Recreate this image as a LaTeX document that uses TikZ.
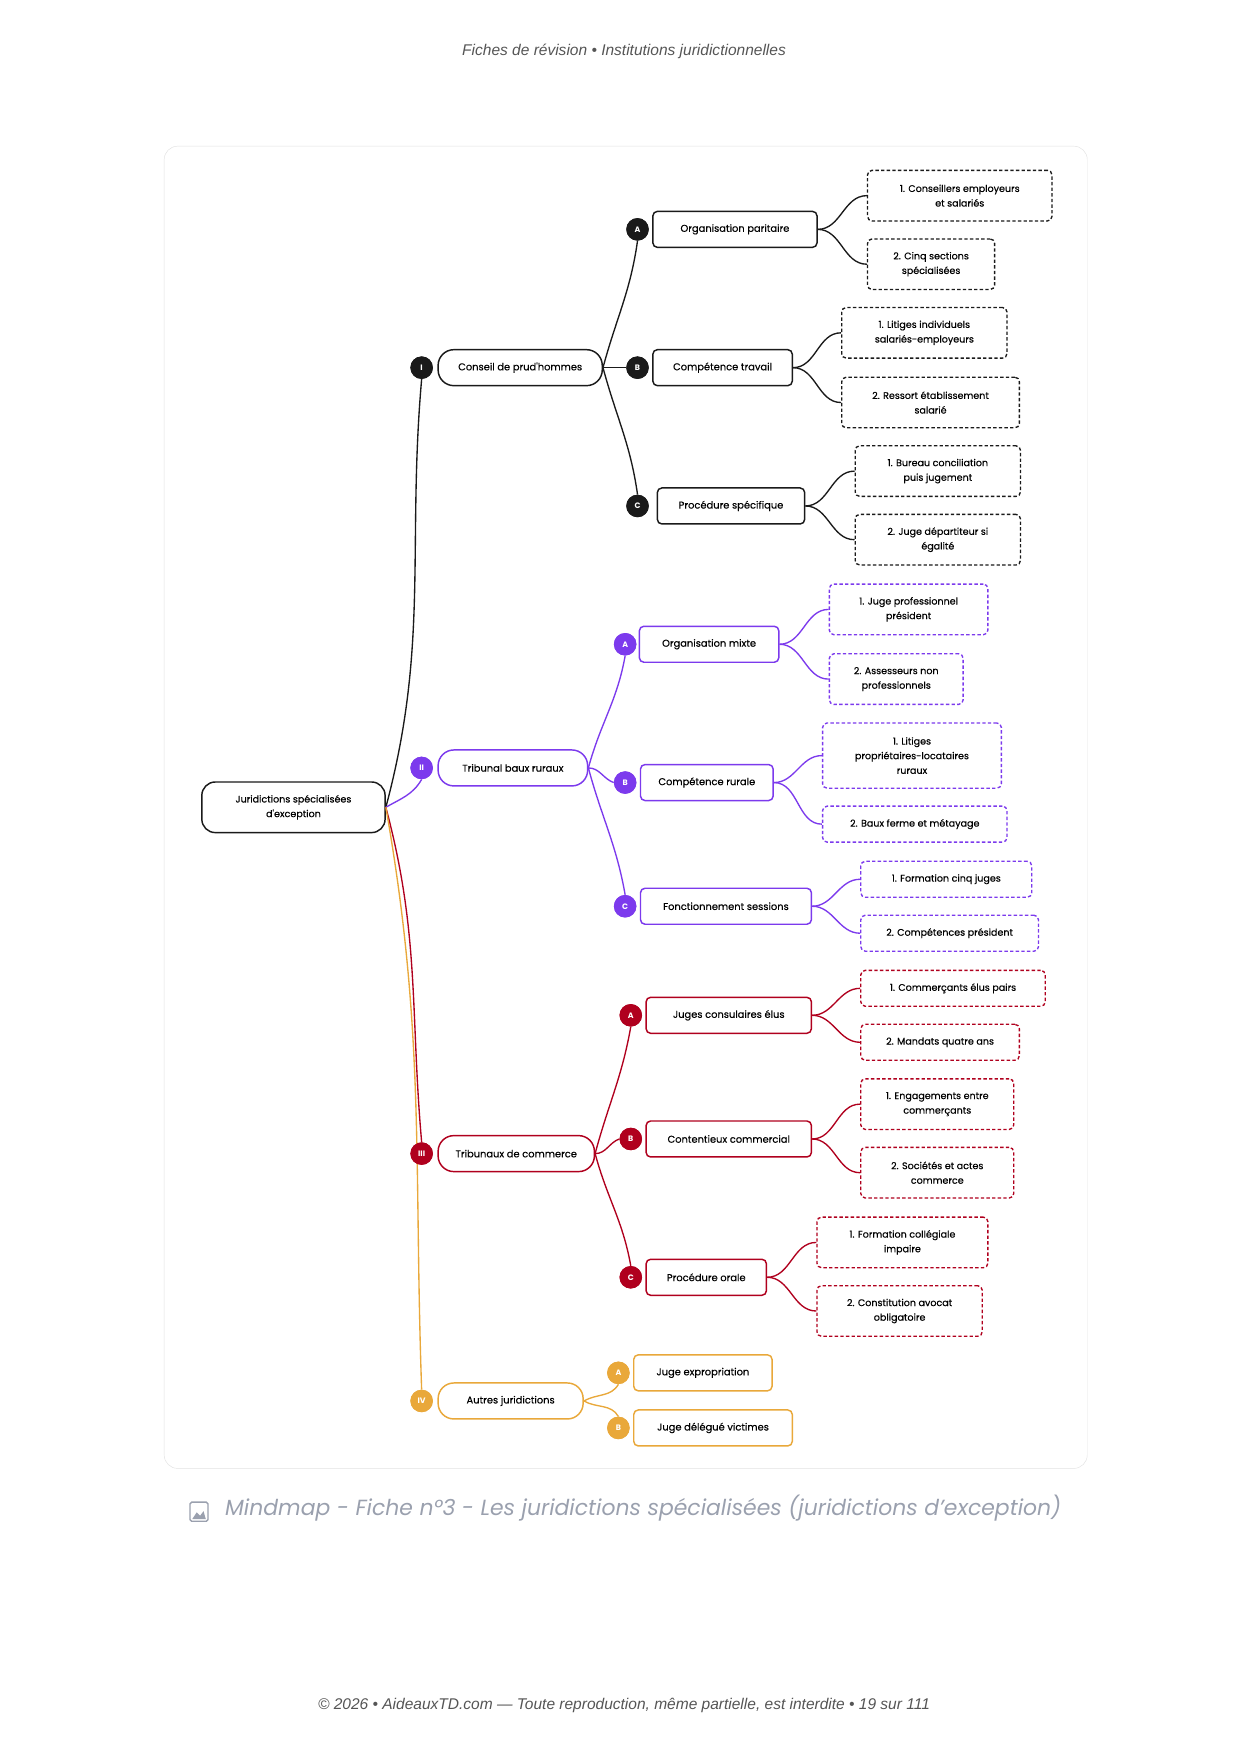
\documentclass[tikz,border=0pt]{standalone}
\usepackage{fontspec}
\setmainfont{Poppins}
\newfontfamily\medfont{Poppins}[FakeBold=0.35]
\newfontfamily\headfont{Liberation Sans}
\usetikzlibrary{positioning,calc}

\definecolor{inkblack}{HTML}{1A1A1A}
\definecolor{rurviolet}{HTML}{7C3AED}
\definecolor{comred}{HTML}{B0001E}
\definecolor{othorange}{HTML}{E9A83A}
\definecolor{cardline}{HTML}{E2E2E2}
\definecolor{capgray}{HTML}{9AA0AE}
\definecolor{headgray}{HTML}{555555}

\begin{document}
\begin{tikzpicture}[x=1pt, y=-1pt]

\tikzstyle{root} = [rectangle, rounded corners=12, draw=inkblack, line width=1.3, minimum width=163, minimum height=45, align=center, font=\medfont\fontsize{8.5}{13}\selectfont]
\tikzstyle{main} = [rectangle, rounded corners=14, line width=1.3, minimum height=32, anchor=west, align=center, font=\medfont\fontsize{8.8}{10}\selectfont, fill=white]
\tikzstyle{sub} = [rectangle, rounded corners=4, line width=1.3, minimum height=32, anchor=west, align=center, font=\medfont\fontsize{8.8}{10}\selectfont, fill=white]
\tikzstyle{leaf} = [rectangle, rounded corners=4, line width=1.2, dashed, dash pattern=on 3pt off 2pt, minimum height=45, anchor=west, align=center, font=\medfont\fontsize{8.5}{13}\selectfont, fill=white]
\tikzstyle{badge} = [circle, minimum size=20, inner sep=0, text=white, font=\fontsize{7}{7}\selectfont\bfseries]
\tikzstyle{link} = [line width=1.2]

\useasboundingbox (0,0) rectangle (1105,1560);

% header, card and footer
\node (head) at (555,46) {\headfont\itshape\fontsize{13.8}{15}\selectfont\color{headgray} Fiches de révision • Institutions juridictionnelles};
\draw [cardline, fill=white, rounded corners=12] (146,130) rectangle (967,1306);
\node (caption) at (572,1341) {\fontsize{19.5}{22}\selectfont\itshape\color{capgray} Mindmap - Fiche n°3 - Les juridictions spécialisées (juridictions d'exception)};
\draw [capgray, line width=1.2, rounded corners=1.5] (169,1336) rectangle (185,1353);
\fill [capgray] (171,1351) -- (175,1345) -- (178,1348) -- (181,1344) -- (183,1351) -- cycle;
\node (foot) at (555,1517) {\headfont\itshape\fontsize{13.8}{15}\selectfont\color{headgray} © 2026 • AideauxTD.com — Toute reproduction, même partielle, est interdite • 19 sur 111};

% ROOT
\node (root) [root] at (261,718) {Juridictions spécialisées\\d'exception};

%% -- I : CONSEIL DE PRUD'HOMMES --
\node (b1) [badge, fill=inkblack] at (375,327) {I};
\node (m1) [main, draw=inkblack, minimum width=146] at (389,327) {Conseil de prud'hommes};
\node (b1a) [badge, fill=inkblack] at (567,204) {A};
\node (s1a) [sub, draw=inkblack, minimum width=146] at (580,204) {Organisation paritaire};
\node (b1b) [badge, fill=inkblack] at (567,327) {B};
\node (s1b) [sub, draw=inkblack, minimum width=124] at (580,327) {Compétence travail};
\node (b1c) [badge, fill=inkblack] at (567,450) {C};
\node (s1c) [sub, draw=inkblack, minimum width=131] at (584,450) {Procédure spécifique};
\node (l1a1) [leaf, draw=inkblack, minimum width=164] at (771,174) {1. Conseillers employeurs\\et salariés};
\node (l1a2) [leaf, draw=inkblack, minimum width=113] at (771,235) {2. Cinq sections\\spécialisées};
\node (l1b1) [leaf, draw=inkblack, minimum width=147] at (748,296) {1. Litiges individuels\\salariés-employeurs};
\node (l1b2) [leaf, draw=inkblack, minimum width=158] at (748,358) {2. Ressort établissement\\salarié};
\node (l1c1) [leaf, draw=inkblack, minimum width=147] at (760,419) {1. Bureau conciliation\\puis jugement};
\node (l1c2) [leaf, draw=inkblack, minimum width=147] at (760,480) {2. Juge départiteur si\\égalité};

%% -- II : TRIBUNAL BAUX RURAUX --
\node (b2) [badge, fill=rurviolet] at (375,683) {II};
\node (m2) [main, draw=rurviolet, minimum width=133] at (389,683) {Tribunal baux ruraux};
\node (b2a) [badge, fill=rurviolet] at (556,573) {A};
\node (s2a) [sub, draw=rurviolet, minimum width=124] at (568,573) {Organisation mixte};
\node (b2b) [badge, fill=rurviolet] at (556,696) {B};
\node (s2b) [sub, draw=rurviolet, minimum width=118] at (569,696) {Compétence rurale};
\node (b2c) [badge, fill=rurviolet] at (556,806) {C};
\node (s2c) [sub, draw=rurviolet, minimum width=152] at (569,806) {Fonctionnement sessions};
\node (l2a1) [leaf, draw=rurviolet, minimum width=141] at (737,542) {1. Juge professionnel\\président};
\node (l2a2) [leaf, draw=rurviolet, minimum width=119] at (737,604) {2. Assesseurs non\\professionnels};
\node (l2b1) [leaf, draw=rurviolet, minimum width=159, minimum height=58] at (731,672) {1. Litiges\\propriétaires-locataires\\ruraux};
\node (l2b2) [leaf, draw=rurviolet, minimum width=164, minimum height=32] at (731,733) {2. Baux ferme et métayage};
\node (l2c1) [leaf, draw=rurviolet, minimum width=152, minimum height=32] at (765,782) {1. Formation cinq juges};
\node (l2c2) [leaf, draw=rurviolet, minimum width=158, minimum height=32] at (765,830) {2. Compétences président};

%% -- III : TRIBUNAUX DE COMMERCE --
\node (b3) [badge, fill=comred] at (375,1026) {III};
\node (m3) [main, draw=comred, minimum width=139] at (389,1026) {Tribunaux de commerce};
\node (b3a) [badge, fill=comred] at (561,903) {A};
\node (s3a) [sub, draw=comred, minimum width=147] at (574,903) {Juges consulaires élus};
\node (b3b) [badge, fill=comred] at (561,1013) {B};
\node (s3b) [sub, draw=comred, minimum width=147] at (574,1013) {Contentieux commercial};
\node (b3c) [badge, fill=comred] at (561,1136) {C};
\node (s3c) [sub, draw=comred, minimum width=107] at (574,1136) {Procédure orale};
\node (l3a1) [leaf, draw=comred, minimum width=164, minimum height=32] at (765,879) {1. Commerçants élus pairs};
\node (l3a2) [leaf, draw=comred, minimum width=141, minimum height=32] at (765,927) {2. Mandats quatre ans};
\node (l3b1) [leaf, draw=comred, minimum width=136] at (765,982) {1. Engagements entre\\commerçants};
\node (l3b2) [leaf, draw=comred, minimum width=136] at (765,1043) {2. Sociétés et actes\\commerce};
\node (l3c1) [leaf, draw=comred, minimum width=152] at (726,1105) {1. Formation collégiale\\impaire};
\node (l3c2) [leaf, draw=comred, minimum width=147] at (726,1166) {2. Constitution avocat\\obligatoire};

%% -- IV : AUTRES JURIDICTIONS --
\node (b4) [badge, fill=othorange] at (375,1246) {IV};
\node (m4) [main, draw=othorange, minimum width=129] at (389,1246) {Autres juridictions};
\node (b4a) [badge, fill=othorange] at (550,1221) {A};
\node (s4a) [sub, draw=othorange, minimum width=123] at (563,1221) {Juge expropriation};
\node (b4b) [badge, fill=othorange] at (550,1270) {B};
\node (s4b) [sub, draw=othorange, minimum width=141] at (563,1270) {Juge délégué victimes};

% connectors
\draw [link, inkblack] (root.east) to[out=75,in=-95] (b1.south);
\draw [link, rurviolet] (root.east) to[out=30,in=-120] (b2.south);
\draw [link, comred] (root.east) to[out=-75,in=95] (b3.north);
\draw [link, othorange] (root.east) to[out=-80,in=92] (b4.north);

\draw [link, inkblack] (m1.east) to[out=75,in=-98] (b1a.south);
\draw [link, inkblack] (m1.east) -- (b1b.west);
\draw [link, inkblack] (m1.east) to[out=-75,in=98] (b1c.north);
\draw [link, rurviolet] (m2.east) to[out=75,in=-100] (b2a.south);
\draw [link, rurviolet] (m2.east) to[out=0,in=160] (b2b.west);
\draw [link, rurviolet] (m2.east) to[out=-75,in=100] (b2c.north);
\draw [link, comred] (m3.east) to[out=75,in=-100] (b3a.south);
\draw [link, comred] (m3.east) to[out=0,in=-160] (b3b.west);
\draw [link, comred] (m3.east) to[out=-75,in=100] (b3c.north);
\draw [link, othorange] (m4.east) to[out=30,in=-120] (b4a.south);
\draw [link, othorange] (m4.east) to[out=-30,in=120] (b4b.north);

\foreach \s/\c in {1a/inkblack,1b/inkblack,1c/inkblack,2a/rurviolet,2b/rurviolet,2c/rurviolet,3a/comred,3b/comred,3c/comred}
  \foreach \k in {1,2}
    \draw [link, \c] (s\s.east) to[out=0,in=180] (l\s\k.west);

% badges on top of the connectors
\foreach \b/\c/\t in {b1/inkblack/I,b1a/inkblack/A,b1b/inkblack/B,b1c/inkblack/C,b2/rurviolet/II,b2a/rurviolet/A,b2b/rurviolet/B,b2c/rurviolet/C,b3/comred/III,b3a/comred/A,b3b/comred/B,b3c/comred/C,b4/othorange/IV,b4a/othorange/A,b4b/othorange/B}
  \node [badge, fill=\c] at (\b) {\t};

\end{tikzpicture}
\end{document}
